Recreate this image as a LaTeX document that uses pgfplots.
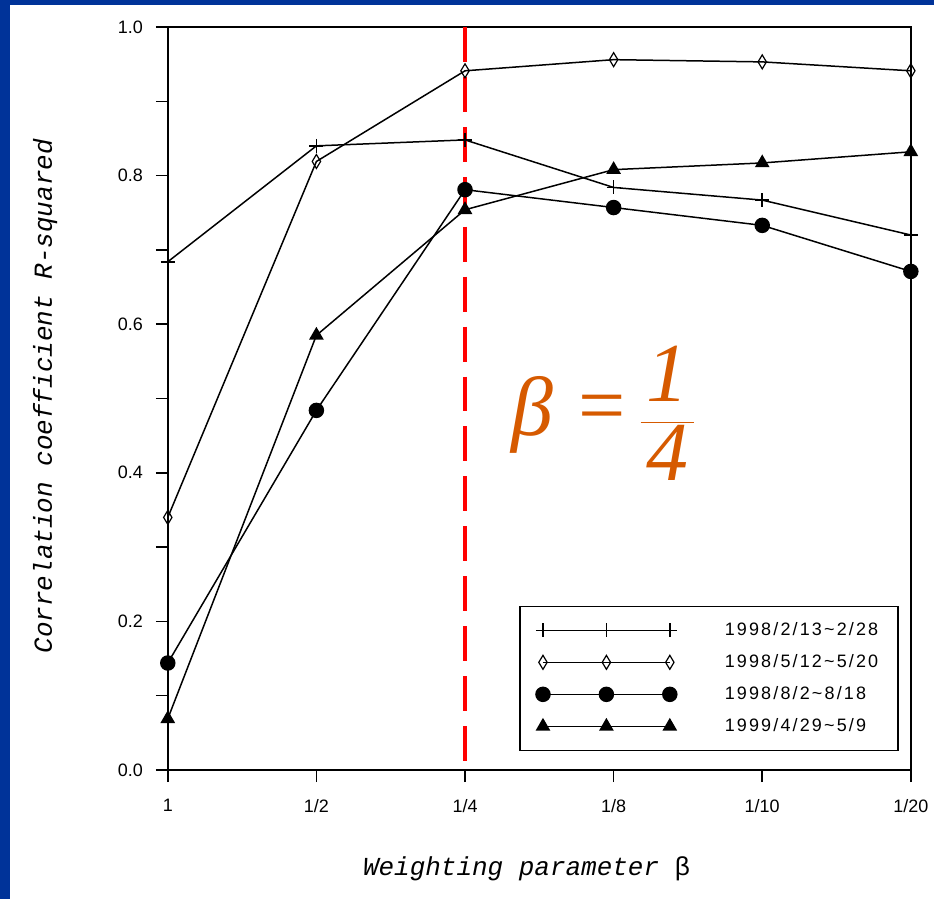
\documentclass[border=0pt]{standalone}
\usepackage{fontspec}
\setmainfont{Liberation Sans}
\newfontfamily\labfont{Liberation Mono}
\newfontfamily\tnr{Liberation Serif}
\newfontfamily\legfont[LetterSpace=12]{Liberation Sans}
\usepackage{pgfplots}
\pgfplotsset{compat=1.18}
\definecolor{bgblue}{RGB}{0,51,153}
\definecolor{betaorange}{RGB}{214,90,0}
\begin{document}
\begin{tikzpicture}
\fill[bgblue] (-84pt,-64.5pt) rectangle (383.5pt,385.5pt);
\fill[white] (-79pt,-64.5pt) rectangle (383.5pt,383pt);
\begin{axis}[
  at={(0,0)}, anchor=south west,
  width=372pt, height=372pt, scale only axis,
  xmin=0, xmax=5, ymin=0, ymax=1,
  xtick={0,1,2,3,4,5},
  xticklabels={1,1/2,1/4,1/8,1/10,1/20},
  ytick={0,0.2,0.4,0.6,0.8,1.0},
  minor y tick num=1,
  yticklabel style={xshift=-3pt, /pgf/number format/.cd, fixed, fixed zerofill, precision=1},
  /pgf/number format/assume math mode=true,
  tick align=outside, xtick pos=left, ytick pos=left,
  major tick length=6pt, minor tick length=6pt,
  tick style={black, line width=0.75pt},
  axis line style={black, line width=0.75pt},
  ticklabel style={font=\fontsize{9}{10}\selectfont},
  xticklabel style={yshift=-5pt},
  xlabel={Weighting parameter {\upshape β}},
  ylabel={Correlation coefficient R-squared},
  label style={font=\labfont\itshape\fontsize{13}{15}\selectfont},
  xlabel style={at={(axis description cs:0.483,-0.133)}, anchor=center},
  ylabel style={at={(axis description cs:-0.165,0.503)}, anchor=center, rotate=0},
  legend style={at={(0.473,0.0255)}, anchor=south west, draw=black, line width=0.75pt,
    font=\legfont\fontsize{9}{11}\selectfont, row sep=4pt,
    inner xsep=8pt, inner ysep=6pt,
    /tikz/every odd column/.append style={column sep=22pt}},
  legend cell align=left,
  legend image code/.code={\draw[#1] plot coordinates {(0pt,0pt)(31.75pt,0pt)(63.5pt,0pt)};},
]
\addplot[black, line width=0.75pt, mark=+, mark size=3.5pt, mark options={line width=0.75pt}]
  coordinates {(0,0.684)(1,0.840)(2,0.848)(3,0.784)(4,0.767)(5,0.720)};
\addlegendentry{1998/2/13\textasciitilde 2/28}
\addplot[black, line width=0.75pt, mark=diamond, mark size=3.5pt, mark options={fill=white, xscale=0.8, line width=0.6pt}]
  coordinates {(0,0.340)(1,0.819)(2,0.941)(3,0.956)(4,0.953)(5,0.941)};
\addlegendentry{1998/5/12\textasciitilde 5/20}
\addplot[black, line width=0.75pt, mark=*, mark size=3.5pt]
  coordinates {(0,0.144)(1,0.484)(2,0.781)(3,0.757)(4,0.733)(5,0.671)};
\addlegendentry{1998/8/2\textasciitilde 8/18}
\addplot[black, line width=0.75pt, mark=triangle*, mark size=3.5pt]
  coordinates {(0,0.069)(1,0.585)(2,0.754)(3,0.808)(4,0.817)(5,0.832)};
\addlegendentry{1999/4/29\textasciitilde 5/9}
\addplot[red, line width=2pt, dash pattern=on 17.5pt off 7.5pt, forget plot]
  coordinates {(2,1)(2,0)};
\node[text=betaorange, font=\fontsize{42}{46}\selectfont, inner sep=0pt] at (axis cs:2.935,0.48)
  {{\tnr\itshape β}\hspace{13pt}\raisebox{1pt}{\tnr =}\hspace{6pt}$\displaystyle\frac{\mbox{\tnr\itshape \kern3pt 1\kern3pt}}{\mbox{\tnr\itshape \kern3pt 4\kern3pt}}$};
\end{axis}
\end{tikzpicture}
\end{document}
